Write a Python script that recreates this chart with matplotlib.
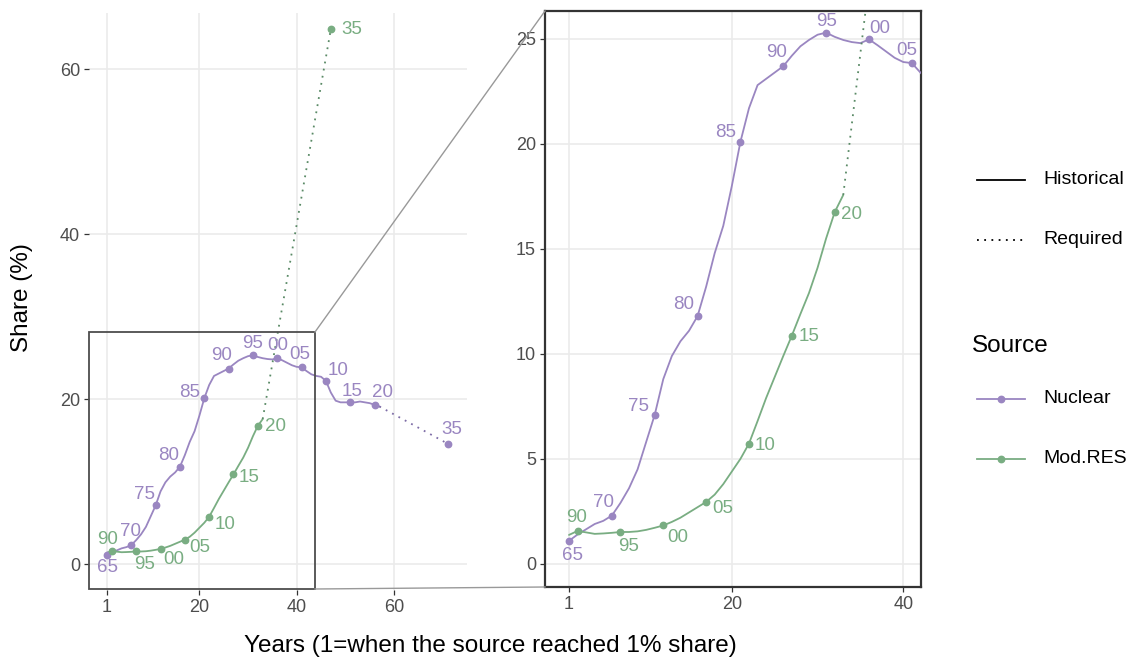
import matplotlib
matplotlib.use('Agg')
import matplotlib.pyplot as plt
from matplotlib.lines import Line2D
from matplotlib.patches import Rectangle

plt.rcParams['font.family'] = ['Liberation Sans', 'DejaVu Sans']

# ---------------- data ----------------
nuclear_start = 1965
nuclear_years = list(range(1965, 2022))
nuclear_share = [1.1, 1.4, 1.65, 1.9, 2.05, 2.3, 2.9, 3.6, 4.5, 5.8, 7.1, 8.8, 9.9, 10.6,
                 11.1, 11.8, 13.2, 14.8, 16.1, 18.0, 20.1, 21.7, 22.8, 23.1, 23.4, 23.7,
                 24.2, 24.65, 24.95, 25.2, 25.3, 25.1, 24.95, 24.85, 24.8, 24.98, 24.7,
                 24.4, 24.1, 23.9, 23.85, 23.4, 23.0, 22.8, 22.7, 22.2, 20.8, 19.8, 19.6,
                 19.6, 19.6, 19.6, 19.7, 19.6, 19.5, 19.3, 19.1]
nuclear_req_years = [2021, 2035]
nuclear_req_share = [19.1, 14.6]

modres_start = 1989
modres_years = list(range(1989, 2022))
modres_share = [1.38, 1.57, 1.5, 1.43, 1.45, 1.48, 1.52, 1.52, 1.55, 1.62, 1.72, 1.83,
                2.0, 2.2, 2.45, 2.7, 2.95, 3.3, 3.8, 4.4, 5.0, 5.73, 6.8, 7.9, 8.9, 9.9,
                10.87, 11.9, 12.9, 14.1, 15.5, 16.75, 17.57]
modres_req_years = [2021, 2035]
modres_req_share = [17.57, 64.8]

sources = ['Nuclear', 'Mod.RES']
left_xticks = [1, 20, 40, 60]
left_yticks = [0, 20, 40, 60]
right_xticks = [1, 20, 40]
right_yticks = [0, 5, 10, 15, 20, 25]

# ---------------- style ----------------
colors = {'Nuclear': '#9A86C1', 'Mod.RES': '#79AD82'}
req_colors = {'Nuclear': '#7D6CA6', 'Mod.RES': '#5A8A66'}
LW = 1.3
DOT = (0, (1, 3))
FS_TICK = 13
FS_LAB = 13.5
FS_TITLE = 17.5
FS_LEG = 14

# label offsets (pixels, x right, y down) per panel
left_off = {
    'Nuclear': {1965: (1, 13), 1970: (-1, -14), 1975: (-11, -11), 1980: (-11, -11),
                1985: (-15, -6), 1990: (-7, -13), 1995: (0, -12), 2000: (0, -12),
                2005: (-2, -13), 2010: (12, -10), 2015: (2, -11), 2020: (8, -12),
                2035: (4, -14)},
    'Mod.RES': {1990: (-4, -12), 1995: (8, 13), 2000: (13, 11), 2005: (15, 8),
                2010: (16, 8), 2015: (16, 3), 2020: (18, 1), 2035: (21, 0)},
}
right_off = {
    'Nuclear': {1965: (4, 15), 1970: (-8, -13), 1975: (-16, -8), 1980: (-14, -12),
                1985: (-15, -9), 1990: (-7, -14), 1995: (0, -11), 2000: (11, -11),
                2005: (-5, -13)},
    'Mod.RES': {1990: (-1, -13), 1995: (8, 15), 2000: (14, 12), 2005: (17, 7),
                2010: (16, 2), 2015: (17, 1), 2020: (17, 2)},
}

W, H = 1131, 659
fig = plt.figure(figsize=(W / 100, H / 100), dpi=100)


def fx(px):
    return px / W


def fy(py):
    return 1 - py / H


ax1 = fig.add_axes([fx(89), fy(590), 378 / W, 577 / H])
ax2 = fig.add_axes([fx(545), fy(587), 376 / W, 576 / H])

series = {
    'Nuclear': (nuclear_start, nuclear_years, nuclear_share, nuclear_req_years, nuclear_req_share),
    'Mod.RES': (modres_start, modres_years, modres_share, modres_req_years, modres_req_share),
}


def draw(ax, offsets, xlim, ylim):
    for name in sources:
        start, yrs, vals, ryrs, rvals = series[name]
        x = [y - start + 1 for y in yrs]
        rx = [y - start + 1 for y in ryrs]
        ax.plot(x, vals, color=colors[name], lw=LW, solid_capstyle='round', zorder=3)
        ax.plot(rx, rvals, color=req_colors[name], lw=LW, linestyle=DOT, zorder=3)
        pts = [(y, v) for y, v in zip(yrs, vals) if y % 5 == 0] + [(ryrs[-1], rvals[-1])]
        for yr, v in pts:
            xx = yr - start + 1
            if not (xlim[0] <= xx <= xlim[1] and ylim[0] <= v <= ylim[1]):
                continue
            ax.plot([xx], [v], 'o', color=colors[name], ms=4.6, zorder=4)
            if yr in offsets[name]:
                dx, dy = offsets[name][yr]
                ax.annotate(f"{yr % 100:02d}", (xx, v), xytext=(dx, -dy),
                            textcoords='offset pixels', ha='center', va='center',
                            fontsize=FS_LAB, color=colors[name], zorder=5)
    ax.set_xlim(*xlim)
    ax.set_ylim(*ylim)
    ax.grid(True, color='#EBEBEB', lw=1.2)
    ax.set_axisbelow(True)
    ax.tick_params(direction='out', length=3.5, width=0.9, color='#333333',
                   labelcolor='#4D4D4D', labelsize=FS_TICK, pad=3)


draw(ax1, left_off, (-2.7, 75.0), (-3.15, 66.8))
ax1.set_xticks(left_xticks)
ax1.set_yticks(left_yticks)
for s in ax1.spines.values():
    s.set_visible(False)

draw(ax2, right_off, (-1.8, 42.07), (-1.1, 26.33))
ax2.set_xticks(right_xticks)
ax2.set_yticks(right_yticks)
for s in ax2.spines.values():
    s.set_color('#333333')
    s.set_linewidth(1.6)

# zoom indicator rectangle on the left panel
ax1.add_patch(Rectangle((-2.7, -3.0), 43.8 + 2.7, 28.1 + 3.0, fill=False,
                        edgecolor='#4D4D4D', lw=1.3, zorder=6, clip_on=False))
# connector lines
fig.add_artist(Line2D([fx(315), fx(545)], [fy(332), fy(11)], color='#999999', lw=1.0))
fig.add_artist(Line2D([fx(315), fx(545)], [fy(589), fy(587)], color='#999999', lw=1.0))

# axis titles
fig.text(fx(490), fy(646), 'Years (1=when the source reached 1% share)', ha='center',
         va='center', fontsize=FS_TITLE, color='black')
fig.text(fx(22), fy(298), 'Share (%)', ha='center', va='center', rotation=90,
         fontsize=FS_TITLE, color='black')

# legends (drawn manually)
kx0, kx1, tx = 977, 1025, 1043
fig.add_artist(Line2D([fx(kx0), fx(kx1)], [fy(179.5), fy(179.5)], color='black', lw=1.3))
fig.text(fx(tx), fy(179.5), 'Historical', ha='left', va='center', fontsize=FS_LEG)
fig.add_artist(Line2D([fx(kx0), fx(kx1)], [fy(240), fy(240)], color='black', lw=1.3,
                      linestyle=DOT))
fig.text(fx(tx), fy(240), 'Required', ha='left', va='center', fontsize=FS_LEG)

fig.text(fx(972), fy(346), 'Source', ha='left', va='center', fontsize=FS_TITLE)
for name, yy in zip(sources, [398.5, 458.5]):
    fig.add_artist(Line2D([fx(kx0), fx(kx1)], [fy(yy), fy(yy)], color=colors[name], lw=1.3))
    fig.add_artist(Line2D([fx((kx0 + kx1) / 2)], [fy(yy)], color=colors[name],
                          marker='o', ms=4.6, lw=0))
    fig.text(fx(tx), fy(yy), name, ha='left', va='center', fontsize=FS_LEG)

fig.savefig('out.png', dpi=100, facecolor='white')
